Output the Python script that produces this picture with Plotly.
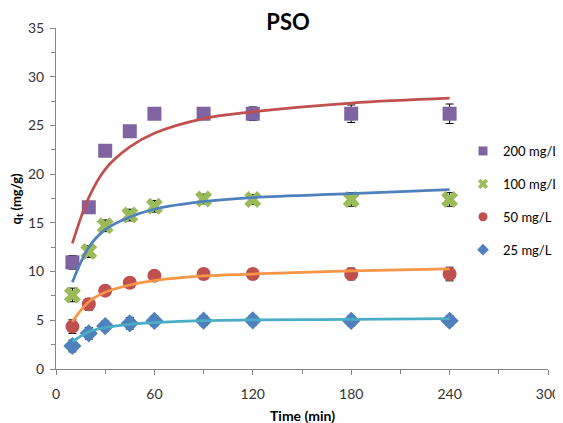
import plotly.graph_objects as go

# ---- data ----
time_min = [10, 20, 30, 45, 60, 90, 120, 180, 240]

exp_200 = [10.95, 16.6, 22.4, 24.4, 26.2, 26.2, 26.2, 26.2, 26.2]
exp_100 = [7.6, 12.05, 14.7, 15.8, 16.7, 17.45, 17.4, 17.4, 17.4]
exp_50 = [4.35, 6.64, 8.04, 8.86, 9.58, 9.75, 9.75, 9.75, 9.75]
exp_25 = [2.36, 3.66, 4.41, 4.69, 4.93, 4.96, 5.0, 4.93, 4.95]

err_200 = [0.7, 0.6, 0.5, 0.6, 0.6, 0.6, 0.7, 0.9, 1.0]
err_100 = [0.7, 0.6, 0.6, 0.6, 0.6, 0.5, 0.5, 0.7, 0.7]
err_50 = [0.7, 0.6, 0.5, 0.5, 0.4, 0.5, 0.5, 0.6, 0.7]
err_25 = [0.6, 0.6, 0.5, 0.6, 0.5, 0.5, 0.5, 0.5, 0.5]

fit_time = [10, 20, 30, 45, 60, 90, 120, 180, 240]
fit_200 = [12.9, 17.6, 20.5, 22.8, 24.2, 25.7, 26.4, 27.3, 27.8]
fit_100 = [8.9, 12.5, 14.3, 15.6, 16.4, 17.2, 17.6, 18.0, 18.4]
fit_50 = [4.86, 6.9, 7.87, 8.62, 9.07, 9.55, 9.75, 10.06, 10.27]
fit_25 = [2.8, 3.83, 4.24, 4.58, 4.75, 4.96, 5.03, 5.1, 5.16]

labels = ["200 mg/L", "100 mg/L", "50 mg/L", "25 mg/L"]
x_ticks = [0, 60, 120, 180, 240, 300]
y_ticks = [0, 5, 10, 15, 20, 25, 30, 35]

FONT = "Lato"
series = [
    (labels[0], exp_200, err_200, "square", "#8064A2", 14, fit_200, "#C0504D"),
    (labels[1], exp_100, err_100, "x", "#9BBB59", 15, fit_100, "#4F81BD"),
    (labels[2], exp_50, err_50, "circle", "#C0504D", 14, fit_50, "#F79646"),
    (labels[3], exp_25, err_25, "diamond", "#4F81BD", 14, fit_25, "#4BACC6"),
]

# the page body has an 8px margin, so the figure is sized to fit what remains
PAGE_OFF = 8
W, H = 563 - PAGE_OFF, 423 - PAGE_OFF

fig = go.Figure()

# experimental points
for name, ys, es, sym, col, sz, _, _ in series:
    fig.add_trace(go.Scatter(
        x=time_min, y=ys, mode="markers", showlegend=False,
        marker=dict(symbol=sym, color=col, size=sz, line=dict(width=0)),
        error_y=dict(type="data", array=es, color="black", thickness=1, width=4),
    ))

# PSO fitted curves
for name, _, _, _, _, _, fy, lc in series:
    fig.add_trace(go.Scatter(
        x=fit_time, y=fy, mode="lines", showlegend=False,
        line=dict(color=lc, width=2.75, shape="spline", smoothing=1.0),
    ))

# legend entries (small markers)
for name, _, _, sym, col, _, _, _ in series:
    fig.add_trace(go.Scatter(
        x=[None], y=[None], mode="markers", name=name, legendgroup=name,
        marker=dict(symbol=sym, color=col, size=9),
    ))

axis_common = dict(
    showgrid=False, zeroline=False, showline=True, linecolor="#868686", linewidth=1,
    ticks="outside", ticklen=5, tickcolor="#868686", tickwidth=1,
    tickfont=dict(family=FONT, size=14, color="#333333"),
    automargin=False,
)

fig.update_xaxes(range=[0, 300], tickvals=x_ticks, ticktext=[str(v) for v in x_ticks],
                 minor=dict(dtick=30, ticks="outside", ticklen=4, tickcolor="#868686"),
                 ticklabelstandoff=7, **axis_common)
fig.update_yaxes(range=[0, 35], tickvals=y_ticks, ticktext=[str(v) for v in y_ticks],
                 minor=dict(dtick=2.5, ticks="outside", ticklen=4, tickcolor="#868686"),
                 ticklabelstandoff=3, **axis_common)

fig.update_layout(
    width=W, height=H,
    margin=dict(l=56 - PAGE_OFF, r=15, t=28 - PAGE_OFF, b=54, autoexpand=False),
    paper_bgcolor="white", plot_bgcolor="white",
    font=dict(family=FONT, color="#000000"),
    title=dict(text="<b>PSO</b>", x=(288 - PAGE_OFF) / W, xanchor="center",
               y=1 - (22 - PAGE_OFF) / H, yanchor="middle",
               font=dict(family=FONT, size=22, color="black")),
    legend=dict(x=(463 - 56) / 492, xanchor="left", y=(369 - 136) / 341, yanchor="top",
                bgcolor="rgba(0,0,0,0)", font=dict(family=FONT, size=13, color="black"),
                tracegroupgap=13, itemwidth=30),
    annotations=[
        dict(text="<b>Time (min)</b>", xref="paper", yref="paper", x=0.5, y=0,
             yshift=-46, xanchor="center", yanchor="middle", showarrow=False,
             font=dict(family=FONT, size=14, color="black")),
        dict(text="<b>q<sub>t</sub> (mg/g)</b>", xref="paper", yref="paper", x=0, y=0.5,
             xshift=-40, xanchor="center", yanchor="middle", textangle=-90, showarrow=False,
             font=dict(family=FONT, size=13, color="black")),
    ],
)

fig.write_html("out.html")
